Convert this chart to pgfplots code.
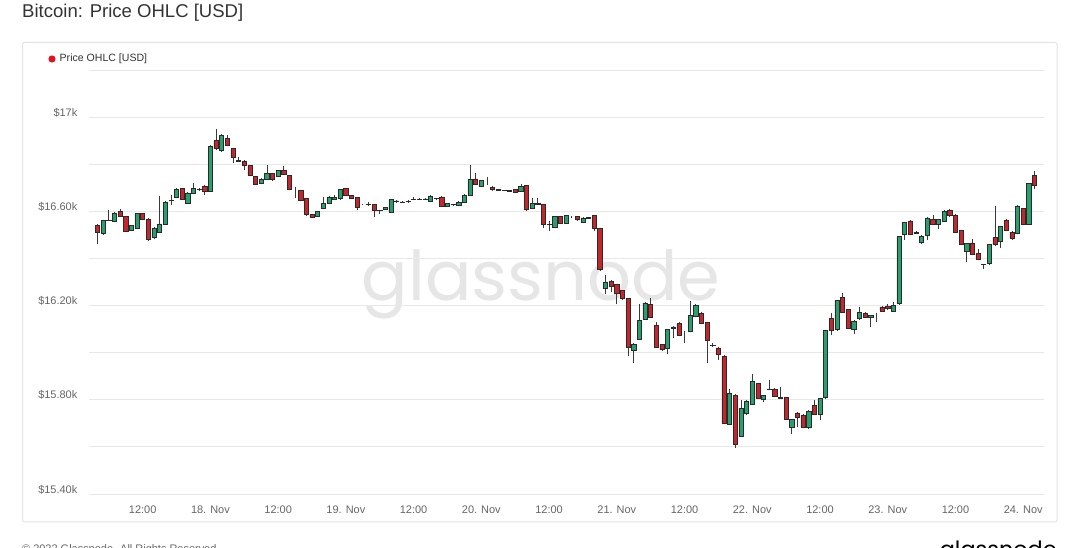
\documentclass[border=0pt]{standalone}
\usepackage{pgfplots}
\pgfplotsset{compat=1.18}
\usepackage{pgfplotstable}
\usepackage{fontspec}
\setmainfont{Liberation Sans}
\newfontfamily\poppins{Poppins}
\definecolor{txt}{HTML}{333333}
\definecolor{tickc}{HTML}{666666}
\definecolor{gridc}{HTML}{E8E8E8}
\definecolor{panelc}{HTML}{E3E3E3}
\definecolor{upc}{HTML}{28A06E}
\definecolor{downc}{HTML}{C4262C}
\definecolor{edgec}{HTML}{2A2A2A}
\definecolor{wickc}{HTML}{3A3A3A}
\definecolor{wmc}{HTML}{E6E6E6}
\definecolor{legred}{HTML}{E0141E}

\pgfplotstableread{
t o h l c
4 16540 16545 16463 16512
5 16505 16565 16500 16562
6 16560 16604 16557 16562
7 16557 16596 16553 16593
8 16601 16611 16576 16580
9 16579 16582 16512 16516
10 16519 16542 16515 16539
11 16530 16593 16526 16590
12 16590 16594 16562 16566
13 16567 16570 16476 16480
14 16491 16532 16484 16529
15 16512 16665 16508 16547
16 16545 16642 16540 16639
17 16646 16668 16625 16648
18 16661 16697 16656 16693
19 16696 16700 16647 16651
20 16635 16681 16630 16678
21 16678 16720 16674 16696
22 16693 16700 16688 16692
23 16707 16710 16668 16685
24 16685 16880 16682 16877
25 16901 16951 16860 16866
26 16859 16929 16852 16922
27 16908 16926 16876 16880
28 16866 16870 16806 16828
29 16817 16830 16809 16813
30 16813 16816 16777 16795
31 16795 16798 16748 16753
32 16748 16751 16710 16714
33 16720 16740 16717 16736
34 16738 16798 16734 16760
35 16760 16764 16730 16734
36 16750 16777 16746 16774
37 16774 16792 16753 16757
38 16753 16756 16689 16693
39 16700 16702 16658 16700
40 16689 16692 16642 16646
41 16654 16657 16582 16587
42 16587 16590 16570 16576
43 16579 16603 16575 16600
44 16613 16660 16609 16635
45 16635 16664 16630 16661
46 16652 16668 16648 16660
47 16656 16696 16646 16693
48 16696 16700 16665 16668
49 16667 16671 16654 16657
50 16659 16662 16604 16618
51 16629 16632 16625 16629
52 16629 16639 16622 16630
53 16628 16632 16576 16604
54 16603 16607 16590 16605
55 16608 16618 16604 16615
56 16597 16653 16593 16649
57 16644 16647 16636 16641
58 16640 16644 16635 16639
59 16641 16646 16637 16642
60 16650 16660 16648 16652
61 16651 16656 16648 16652
62 16652 16656 16648 16653
63 16644 16670 16640 16663
64 16655 16658 16650 16654
65 16661 16665 16618 16622
66 16622 16635 16618 16632
67 16629 16632 16624 16628
68 16625 16642 16621 16639
69 16639 16672 16635 16668
70 16668 16795 16665 16738
71 16738 16764 16710 16713
72 16707 16734 16704 16731
73 16728 16745 16710 16728
74 16703 16706 16688 16692
75 16692 16695 16688 16691
76 16689 16692 16686 16688
77 16688 16691 16685 16687
78 16693 16696 16679 16682
79 16685 16717 16682 16707
80 16710 16713 16600 16608
81 16614 16656 16610 16635
82 16634 16656 16626 16630
83 16628 16631 16529 16547
84 16545 16559 16518 16546
85 16533 16580 16530 16578
86 16579 16582 16546 16550
87 16550 16586 16547 16583
88 16576 16582 16570 16576
89 16579 16582 16561 16565
90 16552 16575 16549 16572
91 16573 16577 16568 16572
92 16583 16586 16516 16529
93 16526 16529 16348 16352
94 16272 16328 16248 16300
95 16304 16310 16257 16282
96 16289 16293 16205 16253
97 16264 16267 16225 16232
98 16229 16232 15984 16021
99 16010 16042 15957 16035
100 16058 16208 16054 16137
101 16143 16215 16139 16211
102 16205 16232 16148 16151
103 16116 16130 16020 16024
104 16035 16038 16008 16013
105 16017 16102 15993 16098
106 16105 16112 16064 16109
107 16123 16130 16070 16074
108 16088 16092 16041 16088
109 16092 16218 16088 16158
110 16154 16205 16150 16201
111 16168 16172 16122 16126
112 16129 16132 15956 16052
113 16032 16042 16022 16030
114 16020 16024 15967 15993
115 15984 15988 15696 15699
116 15696 15847 15692 15829
117 15819 15823 15595 15609
118 15645 15798 15640 15762
119 15741 15797 15737 15795
120 15782 15911 15778 15878
121 15868 15872 15803 15807
122 15801 15821 15790 15817
123 15845 15885 15840 15846
124 15845 15850 15810 15814
125 15810 15854 15805 15807
126 15809 15812 15715 15719
127 15685 15720 15653 15716
128 15744 15748 15685 15727
129 15734 15738 15680 15685
130 15682 15756 15678 15752
131 15777 15798 15734 15738
132 15738 15809 15713 15805
133 15809 16098 15805 16095
134 16144 16170 16073 16095
135 16098 16225 16094 16222
136 16233 16253 16170 16173
137 16182 16185 16100 16102
138 16098 16137 16078 16133
139 16144 16194 16140 16170
140 16168 16172 16148 16151
141 16150 16161 16109 16158
142 16166 16170 16130 16166
143 16194 16199 16174 16177
144 16198 16208 16183 16187
145 16177 16215 16173 16200
146 16208 16496 16204 16494
147 16502 16555 16477 16552
148 16559 16565 16498 16502
149 16512 16515 16505 16508
150 16470 16498 16463 16494
151 16498 16576 16480 16572
152 16565 16583 16540 16545
153 16545 16568 16524 16565
154 16559 16607 16555 16601
155 16604 16608 16578 16583
156 16583 16587 16508 16512
157 16519 16522 16456 16460
158 16431 16466 16385 16463
159 16466 16484 16414 16417
160 16420 16441 16394 16398
161 16376 16378 16357 16375
162 16378 16463 16374 16460
163 16488 16621 16451 16460
164 16474 16539 16446 16536
165 16562 16569 16515 16519
166 16512 16516 16477 16484
167 16505 16625 16502 16623
168 16611 16615 16540 16543
169 16543 16720 16540 16717
170 16753 16771 16696 16710
}\ohlc

\begin{document}
\begin{tikzpicture}
\useasboundingbox (0bp,0bp) rectangle (1080bp,548bp);
\begin{scope}[x=1bp,y=1bp]
\fill[white] (0,0) rectangle (1080,548);
% title
\node[anchor=base west, inner sep=0, text=txt, font=\fontsize{18.6}{21}\selectfont] at (22,530) {Bitcoin: Price OHLC [USD]};
% panel
\draw[panelc, line width=1bp, rounded corners=2bp] (22.5,26) rectangle (1057,505.5);
% legend
\fill[legred] (52,489) circle (3.6);
\node[anchor=west, inner sep=0, text=txt, font=\fontsize{10.6}{12}\selectfont] at (59.5,489) {Price OHLC [USD]};
% watermark
\node[inner sep=0, text=wmc, font=\poppins\fontsize{69}{78}\selectfont] at (541,264) {glassnode};
% footer
\node[anchor=base west, inner sep=0, text=tickc, font=\fontsize{11}{13}\selectfont] at (22,-4) {© 2022 Glassnode. All Rights Reserved.};
\node[anchor=base east, inner sep=0, text=black, font=\poppins\fontsize{22.5}{25}\selectfont] at (1057,-9) {glassnode};
\end{scope}

\begin{axis}[
  at={(88.5bp,54bp)}, anchor=south west, scale only axis,
  width=955bp, height=424bp,
  xmin=2.4, xmax=171.6, ymin=15400, ymax=17200,
  scaled y ticks=false, scaled x ticks=false,
  axis line style={draw=none}, tick style={draw=none},
  xtick={12,24,...,168},
  xticklabels={12:00,18. Nov,12:00,19. Nov,12:00,20. Nov,12:00,21. Nov,12:00,22. Nov,12:00,23. Nov,12:00,24. Nov},
  ytick={15400,15800,16200,16600,17000},
  yticklabels={\$15.40k,\$15.80k,\$16.20k,\$16.60k,\$17k},
  minor ytick={15600,16000,16400,16800,17200},
  ymajorgrids, yminorgrids,
  major grid style={gridc, line width=0.8bp},
  minor grid style={gridc, line width=0.8bp},
  ticklabel style={font=\fontsize{11}{13}\selectfont, text=tickc, inner sep=0pt},
  xticklabel style={anchor=base, yshift=-19bp},
  yticklabel style={anchor=base east, xshift=-11bp, yshift=1bp},
]
\addplot[draw=none, mark=none,
  error bars/.cd, y dir=plus, y explicit, error mark=none,
  error bar style={draw=wickc, solid, line width=0.7bp}]
  table[x=t, y=l, y error expr=\thisrow{h}-\thisrow{l}] {\ohlc};
\end{axis}

\begin{axis}[
  at={(88.5bp,54bp)}, anchor=south west, scale only axis,
  width=955bp, height=424bp,
  xmin=2.4, xmax=171.6, ymin=15400, ymax=17200,
  scaled y ticks=false, scaled x ticks=false,
  hide axis, ybar stacked, bar width=0.74,
]
\addplot[draw=none, fill=none] table[x=t, y expr={min(\thisrow{o},\thisrow{c})}] {\ohlc};
\addplot[fill=upc, draw=edgec, line width=0.6bp] table[x=t, y expr={max(\thisrow{c}-\thisrow{o},0)}] {\ohlc};
\addplot[fill=downc, draw=edgec, line width=0.6bp] table[x=t, y expr={max(\thisrow{o}-\thisrow{c},0)}] {\ohlc};
\end{axis}
\end{tikzpicture}
\end{document}
